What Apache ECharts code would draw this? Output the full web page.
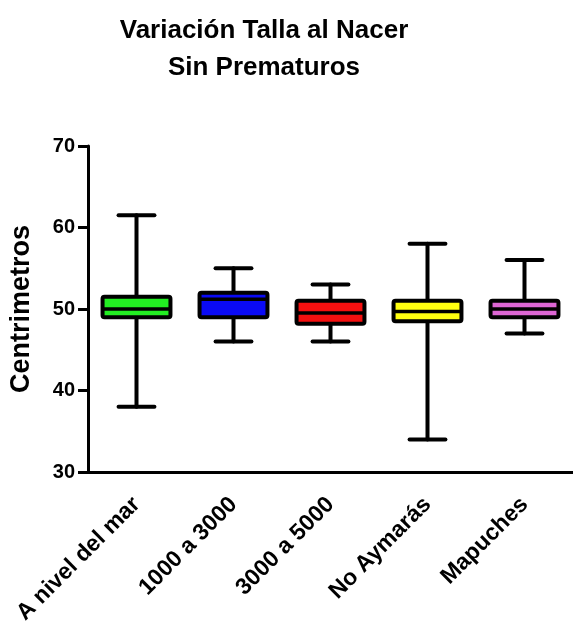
<!DOCTYPE html>
<html>
<head>
<meta charset="utf-8">
<script src="https://cdn.jsdelivr.net/npm/echarts@6/dist/echarts.min.js"></script>
<style>html,body{margin:0;padding:0;background:#fff}#c{width:573px;height:628px}</style>
</head>
<body>
<div id="c"></div>
<script>
var categories = ['A nivel del mar', '1000 a 3000', '3000 a 5000', 'No Aymarás', 'Mapuches'];
var mins    = [38, 46, 46, 34, 47];
var q1s     = [49, 49, 48.2, 48.5, 49];
var medians = [50, 51.2, 49.5, 49.7, 50];
var q3s     = [51.5, 52, 51, 51, 51];
var maxs    = [61.5, 55, 53, 58, 56];
var colors  = ['#22ee22', '#0a0af5', '#f51010', '#ffff10', '#dd66d4'];
var yTicks  = [30, 40, 50, 60, 70];

var FONT = '"Liberation Sans", Arial, sans-serif';
var data = categories.map(function (c, i) {
  return [i, mins[i], q1s[i], medians[i], q3s[i], maxs[i]];
});

var chart = echarts.init(document.getElementById('c'), null, {renderer: 'canvas'});
chart.setOption({
  animation: false,
  backgroundColor: '#fff',
  title: {
    text: 'Variación Talla al Nacer\nSin Prematuros',
    left: 259,
    top: 7,
    textAlign: 'center',
    textStyle: {fontFamily: FONT, fontWeight: 'bold', fontSize: 26, lineHeight: 37, color: '#000'}
  },
  grid: {left: 88, right: -3, top: 146, bottom: 156, containLabel: false},
  xAxis: {
    type: 'category',
    data: categories,
    boundaryGap: true,
    axisLine: {lineStyle: {color: '#000', width: 3}},
    axisTick: {alignWithLabel: true, length: 9, lineStyle: {color: '#000', width: 3}},
    axisLabel: {rotate: 45, margin: 29, color: '#000', fontFamily: FONT, fontWeight: 'bold', fontSize: 23, interval: 0}
  },
  yAxis: {
    type: 'value',
    min: yTicks[0],
    max: yTicks[yTicks.length - 1],
    interval: 10,
    name: 'Centrimetros',
    nameLocation: 'middle',
    nameGap: 53,
    nameTextStyle: {fontFamily: FONT, fontWeight: 'bold', fontSize: 27, color: '#000'},
    axisLine: {show: true, lineStyle: {color: '#000', width: 3}},
    axisTick: {show: true, length: 10, lineStyle: {color: '#000', width: 3}},
    axisLabel: {margin: 13, color: '#000', fontFamily: FONT, fontWeight: 'bold', fontSize: 20},
    splitLine: {show: false}
  },
  series: [{
    type: 'custom',
    data: data,
    encode: {x: 0, y: [1, 2, 3, 4, 5]},
    renderItem: function (params, api) {
      var idx = api.value(0);
      var pMin = api.coord([idx, api.value(1)]);
      var pQ1 = api.coord([idx, api.value(2)]);
      var pMed = api.coord([idx, api.value(3)]);
      var pQ3 = api.coord([idx, api.value(4)]);
      var pMax = api.coord([idx, api.value(5)]);
      var band = api.size([1, 0])[0];
      var hw = band * 0.35;
      var cw = band * 0.185;
      var x = pMin[0];
      var ls = {stroke: '#000', lineWidth: 4, lineCap: 'round'};
      return {
        type: 'group',
        children: [
          {type: 'line', shape: {x1: x, y1: pMax[1], x2: x, y2: pQ3[1]}, style: ls},
          {type: 'line', shape: {x1: x, y1: pQ1[1], x2: x, y2: pMin[1]}, style: ls},
          {type: 'line', shape: {x1: x - cw, y1: pMax[1], x2: x + cw, y2: pMax[1]}, style: ls},
          {type: 'line', shape: {x1: x - cw, y1: pMin[1], x2: x + cw, y2: pMin[1]}, style: ls},
          {type: 'rect', shape: {x: x - hw, y: pQ3[1], width: 2 * hw, height: pQ1[1] - pQ3[1], r: 2},
           style: {fill: colors[idx], stroke: '#000', lineWidth: 4}},
          {type: 'line', shape: {x1: x - hw, y1: pMed[1], x2: x + hw, y2: pMed[1]}, style: {stroke: '#000', lineWidth: 3.5}}
        ]
      };
    }
  }]
});
</script>
</body>
</html>
